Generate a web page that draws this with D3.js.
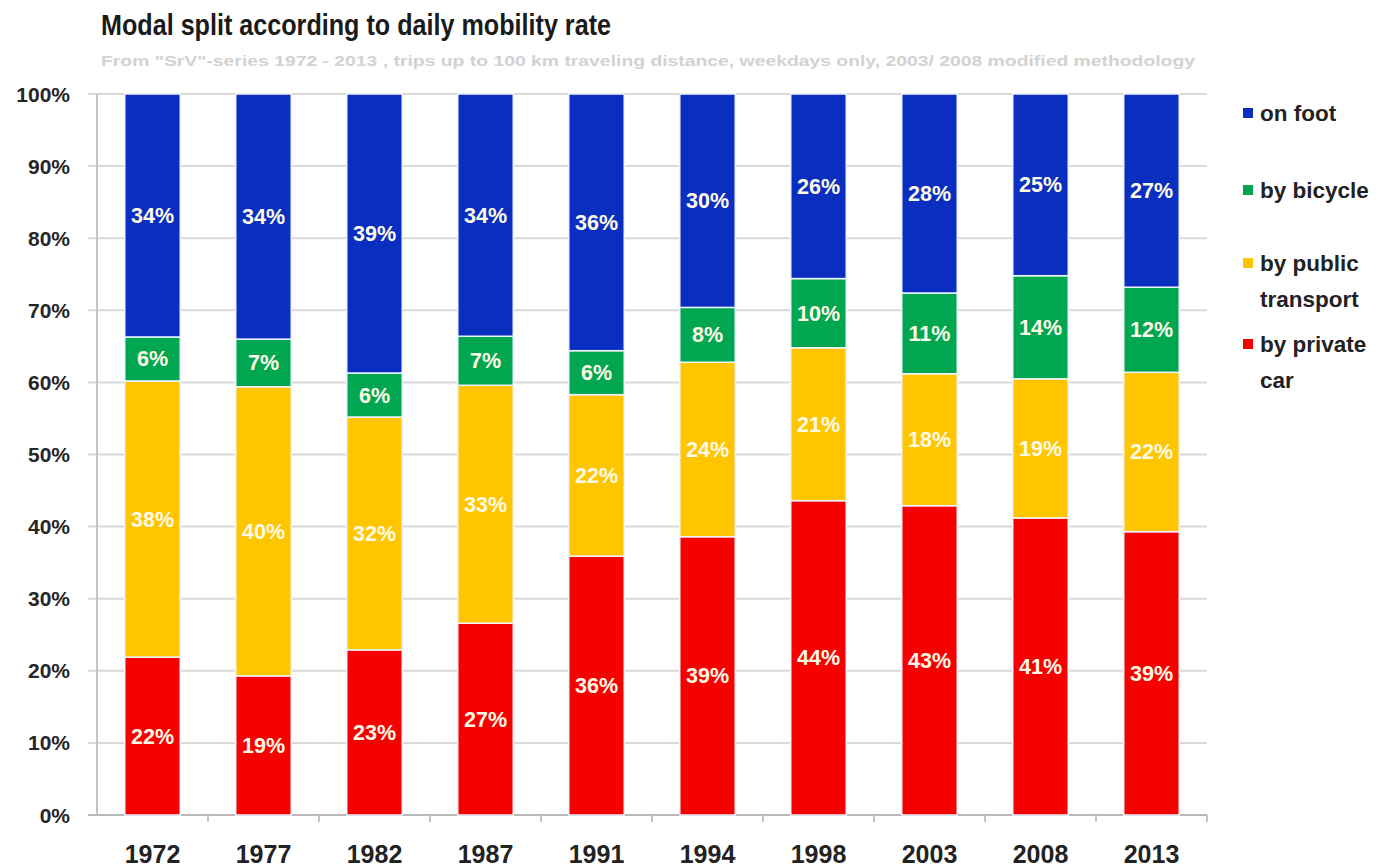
<!DOCTYPE html>
<html>
<head>
<meta charset="utf-8">
<script src="https://cdn.jsdelivr.net/npm/d3@7"></script>
<style>
  body { margin: 0; background: #fff; }
  svg { display: block; font-family: "Liberation Sans", Arial, sans-serif; }
</style>
</head>
<body>
<div id="chart"></div>
<script>
// values (percent of trips)
var years = ["1972", "1977", "1982", "1987", "1991", "1994", "1998", "2003", "2008", "2013"];
var byCar = [21.9, 19.3, 22.9, 26.6, 35.9, 38.6, 43.6, 42.9, 41.2, 39.3];
var byPublic = [38.3, 40.1, 32.3, 33.0, 22.4, 24.2, 21.2, 18.3, 19.3, 22.1];
var byBicycle = [6.1, 6.6, 6.1, 6.8, 6.1, 7.6, 9.6, 11.2, 14.3, 11.8];
var onFoot = [33.7, 34.0, 38.7, 33.6, 35.6, 29.6, 25.6, 27.6, 25.2, 26.8];
var yTicks = [0, 10, 20, 30, 40, 50, 60, 70, 80, 90, 100];

var keys = ["car", "public", "bicycle", "foot"];
var colors = { car: "#f70000", "public": "#ffc600", bicycle: "#00a650", foot: "#0a2fc0" };
var legendNames = { foot: ["on foot"], bicycle: ["by bicycle"], "public": ["by public", "transport"], car: ["by private", "car"] };

var rows = years.map(function(y, i) {
  return { year: y, car: byCar[i], "public": byPublic[i], bicycle: byBicycle[i], foot: onFoot[i] };
});

var width = 1387, height = 867;
var plotLeft = 97, plotRight = 1207, plotTop = 94, plotBottom = 815;

var svg = d3.select("#chart").append("svg")
  .attr("width", width)
  .attr("height", height);

var x = d3.scaleBand()
  .domain(years)
  .range([plotLeft, plotRight])
  .paddingInner(0.5)
  .paddingOuter(0.25);

var y = d3.scaleLinear()
  .domain([0, 100])
  .range([plotBottom, plotTop]);

// title
svg.append("text")
  .attr("x", 101).attr("y", 35)
  .attr("font-size", 29).attr("font-weight", "bold").attr("fill", "#1a1a1a")
  .attr("textLength", 510).attr("lengthAdjust", "spacingAndGlyphs")
  .text("Modal split according to daily mobility rate");

svg.append("text")
  .attr("x", 101).attr("y", 66)
  .attr("font-size", 15).attr("font-weight", "bold").attr("fill", "#d2d2d2")
  .attr("textLength", 1094).attr("lengthAdjust", "spacingAndGlyphs")
  .text("From \"SrV\"-series 1972 - 2013 , trips up to 100 km traveling distance, weekdays only,  2003/ 2008 modified methodology");

// gridlines
svg.append("g")
  .selectAll("line")
  .data(yTicks)
  .enter().append("line")
  .attr("x1", plotLeft - 9).attr("x2", plotRight)
  .attr("y1", function(d) { return y(d); })
  .attr("y2", function(d) { return y(d); })
  .attr("stroke", function(d) { return d === 0 ? "#b8b8b8" : "#d9d9d9"; })
  .attr("stroke-width", 2);

// y axis line
svg.append("line")
  .attr("x1", plotLeft).attr("x2", plotLeft)
  .attr("y1", plotTop).attr("y2", plotBottom)
  .attr("stroke", "#c4c4c4").attr("stroke-width", 2);

// y labels
svg.append("g")
  .selectAll("text")
  .data(yTicks)
  .enter().append("text")
  .attr("x", 70)
  .attr("y", function(d) { return y(d) + 7.5; })
  .attr("text-anchor", "end")
  .attr("font-size", 21).attr("font-weight", "bold").attr("fill", "#262626")
  .text(function(d) { return d + "%"; });

// x tick marks between categories
svg.append("g")
  .selectAll("line")
  .data(years.slice(1).concat(["end"]))
  .enter().append("line")
  .attr("x1", function(d) { return d === "end" ? plotRight : x(d) - x.step() * 0.25; })
  .attr("x2", function(d) { return d === "end" ? plotRight : x(d) - x.step() * 0.25; })
  .attr("y1", plotBottom).attr("y2", plotBottom + 7)
  .attr("stroke", "#c4c4c4").attr("stroke-width", 2);

// x labels
svg.append("g")
  .selectAll("text")
  .data(years)
  .enter().append("text")
  .attr("x", function(d) { return x(d) + x.bandwidth() / 2; })
  .attr("y", 863)
  .attr("text-anchor", "middle")
  .attr("font-size", 25).attr("font-weight", "bold").attr("fill", "#222")
  .text(function(d) { return d; });

// stacked bars
var series = d3.stack().keys(keys)(rows);

var layer = svg.append("g")
  .selectAll("g")
  .data(series)
  .enter().append("g")
  .attr("fill", function(d) { return colors[d.key]; });

layer.selectAll("rect")
  .data(function(d) { return d; })
  .enter().append("rect")
  .attr("x", function(d) { return x(d.data.year); })
  .attr("y", function(d) { return y(d[1]); })
  .attr("width", x.bandwidth())
  .attr("height", function(d) { return y(d[0]) - y(d[1]); })
  .attr("stroke", "#eef4ff")
  .attr("stroke-width", 1.5);

layer.selectAll("text")
  .data(function(d) { return d; })
  .enter().append("text")
  .attr("x", function(d) { return x(d.data.year) + x.bandwidth() / 2; })
  .attr("y", function(d) { return (y(d[0]) + y(d[1])) / 2 + 7.5; })
  .attr("text-anchor", "middle")
  .attr("font-size", 21.5).attr("font-weight", "bold")
  .attr("fill", "#fffbe8")
  .text(function(d) { return Math.round(d[1] - d[0]) + "%"; });

// legend
var legendY = { foot: 113, bicycle: 190, "public": 263, car: 344 };
var legend = svg.append("g")
  .selectAll("g")
  .data(keys.slice().reverse())
  .enter().append("g")
  .attr("transform", function(d) { return "translate(1243," + legendY[d] + ")"; });

legend.append("rect")
  .attr("x", 0).attr("y", -5)
  .attr("width", 10).attr("height", 10)
  .attr("fill", function(d) { return colors[d]; });

legend.append("text")
  .attr("x", 17).attr("y", 8)
  .attr("font-size", 22.5).attr("font-weight", "bold").attr("fill", "#222")
  .selectAll("tspan")
  .data(function(d) { return legendNames[d]; })
  .enter().append("tspan")
  .attr("x", 17)
  .attr("dy", function(d, i) { return i === 0 ? 0 : 36; })
  .text(function(d) { return d; });
</script>
</body>
</html>
